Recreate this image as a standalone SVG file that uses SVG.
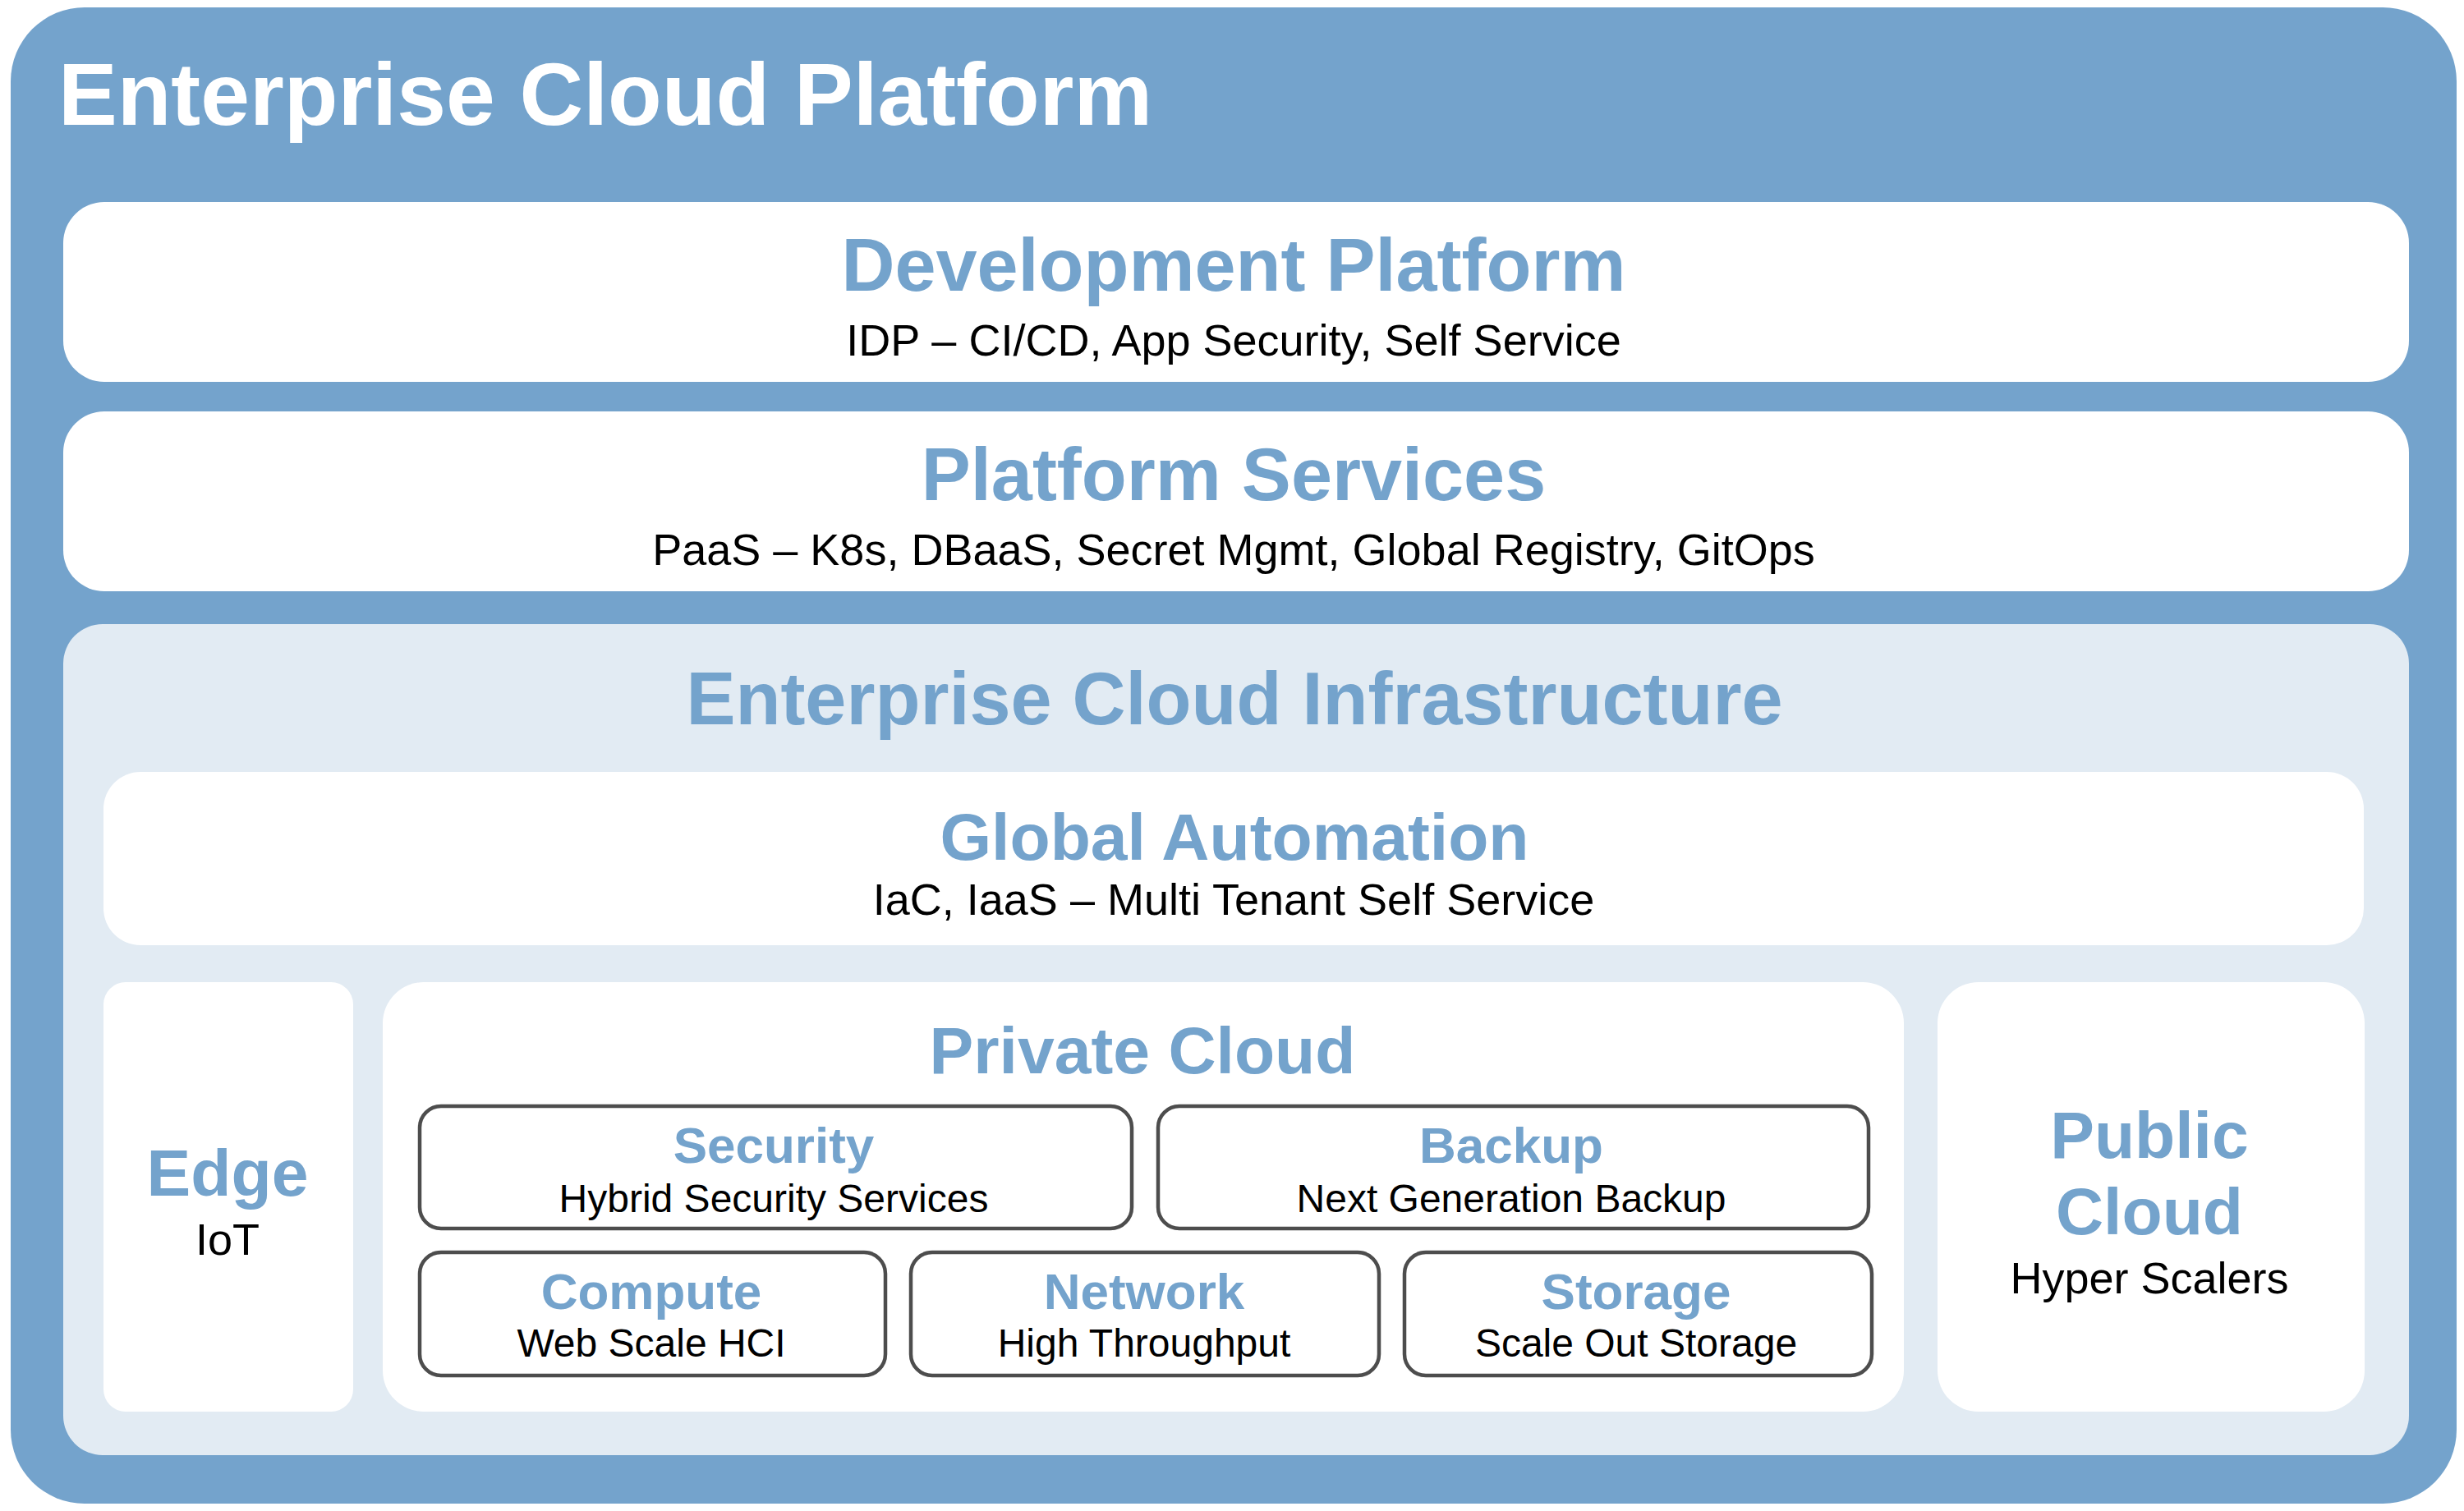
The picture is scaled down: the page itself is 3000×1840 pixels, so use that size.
<svg xmlns="http://www.w3.org/2000/svg" width="3000" height="1840" viewBox="0 0 3000 1840">
<style>
text{font-family:"Liberation Sans",Arial,Helvetica,sans-serif;text-anchor:middle}
.t1{font-size:90px;font-weight:bold;fill:#74a3cc}
.t2{font-size:80.5px;font-weight:bold;fill:#74a3cc}
.t3{font-size:62px;font-weight:bold;fill:#74a3cc}
.s1{font-size:54px;fill:#000}
.s2{font-size:48px;fill:#000}
.white{fill:#ffffff}
.light{fill:#e2ebf3}
.sub{fill:#ffffff;stroke:#4d4d4d;stroke-width:4.5}
</style>
<rect width="3000" height="1840" fill="#ffffff"/>
<g id="enterprise-cloud-platform">
<rect x="13" y="9" width="2978" height="1822" rx="90" ry="90" fill="#74a3cc"/>
<text x="71" y="152" style="text-anchor:start;font-size:107.5px;font-weight:bold;fill:#ffffff">Enterprise Cloud Platform</text>
</g>
<g id="development-platform">
<rect class="white" x="77" y="246" width="2856" height="219" rx="50"/>
<text class="t1" x="1502" y="354">Development Platform</text>
<text class="s1" x="1502" y="433">IDP – CI/CD, App Security, Self Service</text>
</g>
<g id="platform-services">
<rect class="white" x="77" y="501" width="2856" height="219" rx="50"/>
<text class="t1" x="1502" y="609">Platform Services</text>
<text class="s1" x="1502" y="688">PaaS – K8s, DBaaS, Secret Mgmt, Global Registry, GitOps</text>
</g>
<g id="enterprise-cloud-infrastructure">
<rect class="light" x="77" y="760" width="2856" height="1012" rx="48"/>
<text class="t1" x="1503" y="882">Enterprise Cloud Infrastructure</text>
</g>
<g id="global-automation">
<rect class="white" x="126" y="940" width="2752" height="211" rx="45"/>
<text class="t2" x="1503" y="1047">Global Automation</text>
<text class="s1" x="1502" y="1114">IaC, IaaS – Multi Tenant Self Service</text>
</g>
<g id="edge">
<rect class="white" x="126" y="1196" width="304" height="523" rx="27"/>
<text class="t2" x="277" y="1456">Edge</text>
<text class="s1" x="277" y="1528">IoT</text>
</g>
<g id="private-cloud">
<rect class="white" x="466" y="1196" width="1852" height="523" rx="50"/>
<text class="t2" x="1391" y="1307">Private Cloud</text>
</g>
<g id="security">
<rect class="sub" x="511" y="1347" width="867" height="149" rx="26"/>
<text class="t3" x="942" y="1416">Security</text>
<text class="s2" x="942" y="1476">Hybrid Security Services</text>
</g>
<g id="backup">
<rect class="sub" x="1410" y="1347" width="865" height="149" rx="26"/>
<text class="t3" x="1840" y="1416">Backup</text>
<text class="s2" x="1840" y="1476">Next Generation Backup</text>
</g>
<g id="compute">
<rect class="sub" x="511" y="1525" width="567" height="150" rx="26"/>
<text class="t3" x="793" y="1594">Compute</text>
<text class="s2" x="793" y="1652">Web Scale HCI</text>
</g>
<g id="network">
<rect class="sub" x="1109" y="1525" width="570" height="150" rx="26"/>
<text class="t3" x="1393" y="1594">Network</text>
<text class="s2" x="1393" y="1652">High Throughput</text>
</g>
<g id="storage">
<rect class="sub" x="1710" y="1525" width="569" height="150" rx="26"/>
<text class="t3" x="1992" y="1594">Storage</text>
<text class="s2" x="1992" y="1652">Scale Out Storage</text>
</g>
<g id="public-cloud">
<rect class="white" x="2359" y="1196" width="520" height="523" rx="50"/>
<text class="t2" x="2617" y="1410">Public</text>
<text class="t2" x="2617" y="1503">Cloud</text>
<text class="s1" x="2617" y="1575">Hyper Scalers</text>
</g>
<g id="connectors"></g>
</svg>
